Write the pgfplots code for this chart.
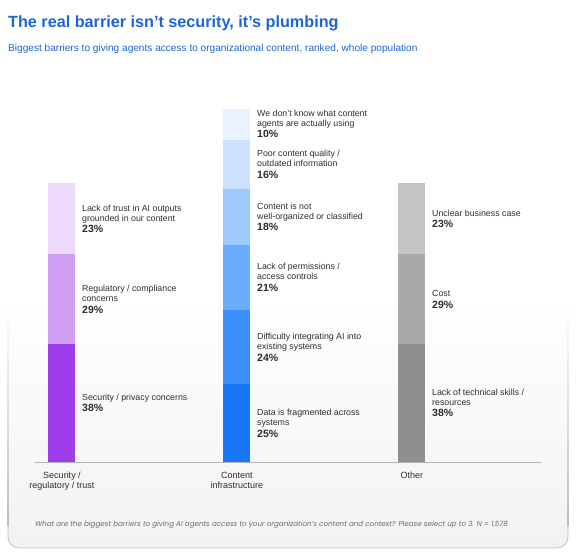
\documentclass[border=0pt]{standalone}
\usepackage{fontspec}
\setmainfont{Liberation Sans}
\newfontfamily\footfont{Poppins}
\usepackage{pgfplots}
\pgfplotsset{compat=1.18}
\usepackage{pgfplotstable}

% segment colours
\definecolor{secA}{HTML}{9F3DEB}
\definecolor{secB}{HTML}{CF9FF3}
\definecolor{secC}{HTML}{ECD9FB}
\definecolor{conA}{HTML}{1777F8}
\definecolor{conB}{HTML}{3A8FFA}
\definecolor{conC}{HTML}{6AADFC}
\definecolor{conD}{HTML}{9EC9FD}
\definecolor{conE}{HTML}{CFE2FD}
\definecolor{conF}{HTML}{E9F2FE}
\definecolor{othA}{HTML}{8F8F8F}
\definecolor{othB}{HTML}{A9A9A9}
\definecolor{othC}{HTML}{C4C4C4}
\definecolor{titleblue}{HTML}{1C64D8}
\definecolor{labelgray}{HTML}{2E2E2E}
\definecolor{axisgray}{HTML}{B4B4B4}
\definecolor{notegray}{HTML}{6E6E6E}
\definecolor{cardedge}{HTML}{BDBDBD}

% share of respondents (%) per barrier, one column per segment
\pgfplotstableread{
x sec reg trust frag integ perm org qual know skills cost biz
0 38  29  23    0    0     0    0   0    0    0      0    0
1 0   0   0     25   24    21   18  16   10   0      0    0
2 0   0   0     0    0     0    0   0    0    38     29   23
}\barriers

% label to the right of a segment, centred on it
\newcommand{\seglabel}[4]{%
  \node[anchor=west, align=left, inner sep=0pt, xshift=20pt, text=labelgray,
        font=\fontsize{8.8}{10}\selectfont]
    at (axis cs:#1,#2)
    {#3\\[1.5pt]{\fontsize{10.5}{12}\selectfont\bfseries #4}};}

\begin{document}
\begin{tikzpicture}
\path[use as bounding box] (0,0) rectangle (576pt,556pt);

% card behind the chart: soft grey gradient, edges fading out upwards
\shade[top color=white, bottom color=black!5]
  (8pt,262pt) -- (8pt,19pt) arc[start angle=180, end angle=270, radius=11pt]
  -- (557pt,8pt) arc[start angle=270, end angle=360, radius=11pt]
  -- (568pt,262pt) -- cycle;
\draw[cardedge, line width=0.7pt]
  (8pt,30pt) -- (8pt,19pt) arc[start angle=180, end angle=270, radius=11pt]
  -- (557pt,8pt) arc[start angle=270, end angle=360, radius=11pt] -- (568pt,30pt);
\shade[top color=white, bottom color=cardedge] (7.65pt,255pt) rectangle (8.35pt,29.8pt);
\shade[top color=white, bottom color=cardedge] (567.65pt,255pt) rectangle (568.35pt,29.8pt);

% titles
\node[anchor=base west, inner sep=0pt, text=titleblue]
  at (8pt,528.5pt) {\fontsize{16.2}{20}\selectfont\bfseries The real barrier isn’t security, it’s plumbing};
\node[anchor=base west, inner sep=0pt, text=titleblue]
  at (8pt,504.5pt) {\fontsize{10.1}{12}\selectfont Biggest barriers to giving agents access to organizational content, ranked, whole population};

\begin{axis}[
  at={(34pt,94pt)}, anchor=south west,
  scale only axis, width=508pt, height=372pt,
  xmin=-0.16, xmax=2.743, ymin=0, ymax=120,
  enlargelimits=false,
  ybar stacked, bar width=27pt,
  axis x line*=bottom, axis y line=none,
  x axis line style={draw=axisgray, line width=0.8pt, -},
  xtick={0,1,2},
  xticklabels={{Security /\\regulatory / trust},{Content\\infrastructure},{Other}},
  xticklabel style={align=center, text=labelgray, font=\fontsize{9}{10}\selectfont, yshift=-6.5pt},
  major tick length=0pt,
  ytick=\empty,
  clip=false,
  every axis plot/.append style={draw=none},
]
\addplot[fill=secA] table[x=x, y=sec]{\barriers};
\addplot[fill=secB] table[x=x, y=reg]{\barriers};
\addplot[fill=secC] table[x=x, y=trust]{\barriers};
\addplot[fill=conA] table[x=x, y=frag]{\barriers};
\addplot[fill=conB] table[x=x, y=integ]{\barriers};
\addplot[fill=conC] table[x=x, y=perm]{\barriers};
\addplot[fill=conD] table[x=x, y=org]{\barriers};
\addplot[fill=conE] table[x=x, y=qual]{\barriers};
\addplot[fill=conF] table[x=x, y=know]{\barriers};
\addplot[fill=othA] table[x=x, y=skills]{\barriers};
\addplot[fill=othB] table[x=x, y=cost]{\barriers};
\addplot[fill=othC] table[x=x, y=biz]{\barriers};

\seglabel{0}{19}{Security / privacy concerns}{38\%}
\seglabel{0}{52.5}{Regulatory / compliance\\concerns}{29\%}
\seglabel{0}{78.5}{Lack of trust in AI outputs\\grounded in our content}{23\%}

\seglabel{1}{12.5}{Data is fragmented across\\systems}{25\%}
\seglabel{1}{37}{Difficulty integrating AI into\\existing systems}{24\%}
\seglabel{1}{59.5}{Lack of permissions /\\access controls}{21\%}
\seglabel{1}{79}{Content is not\\well-organized or classified}{18\%}
\seglabel{1}{96}{Poor content quality /\\outdated information}{16\%}
\seglabel{1}{109}{We don’t know what content\\agents are actually using}{10\%}

\seglabel{2}{19}{Lack of technical skills /\\resources}{38\%}
\seglabel{2}{52.5}{Cost}{29\%}
\seglabel{2}{78.5}{Unclear business case}{23\%}
\end{axis}

% question and sample size
\node[anchor=base west, inner sep=0pt, text=notegray] at (35pt,29pt)
  {\footfont\itshape\fontsize{7.15}{8}\selectfont What are the biggest barriers to giving AI agents access to your organization’s content and context? Please select up to 3. N = 1,578};
\end{tikzpicture}
\end{document}
